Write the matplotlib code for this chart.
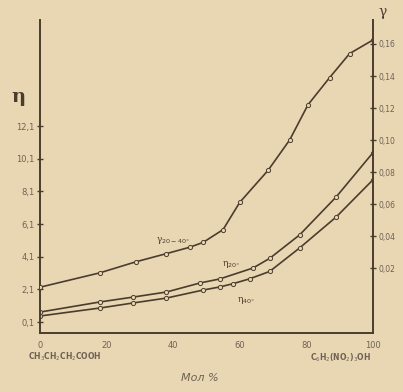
import matplotlib
matplotlib.use("Agg")
import matplotlib.pyplot as plt

# mol % of picric acid
x_gamma = [0, 18, 29, 38, 45, 49, 55, 60, 68.5, 75, 80.5, 87, 93, 100]
gamma_20_40 = [0.008, 0.017, 0.024, 0.029, 0.033, 0.036, 0.044, 0.061, 0.081,
               0.100, 0.122, 0.139, 0.154, 0.1625]

x_eta20 = [0, 18, 28, 38, 48, 54, 64, 69, 78, 89, 100]
eta_20 = [0.71, 1.33, 1.63, 1.94, 2.49, 2.74, 3.41, 4.0, 5.44, 7.77, 10.47]

x_eta40 = [0, 18, 28, 38, 49, 54, 58, 63, 69, 78, 89, 100]
eta_40 = [0.47, 0.96, 1.27, 1.57, 2.06, 2.25, 2.45, 2.75, 3.2, 4.64, 6.54, 8.81]

x_ticks = [0, 20, 40, 60, 80, 100]
eta_ticks = [0.1, 2.1, 4.1, 6.1, 8.1, 10.1, 12.1]
eta_labels = ["0,1", "2,1", "4,1", "6,1", "8,1", "10,1", "12,1"]
gamma_ticks = [0.02, 0.04, 0.06, 0.08, 0.10, 0.12, 0.14, 0.16]
gamma_labels = ["0,02", "0,04", "0,06", "0,08", "0,10", "0,12", "0,14", "0,16"]

paper = "#e9d6b3"
ink = "#4b3d2e"
txt = "#6e6254"

fig = plt.figure(figsize=(4.03, 3.92), dpi=100, facecolor=paper)
ax = fig.add_axes([0.099, 0.1505, 0.8263, 0.7985])
ax.set_facecolor(paper)
ax2 = ax.twinx()

ax.set_xlim(0, 100)
ax.set_ylim(-0.57, 18.6)
ax2.set_ylim(-0.0206, 0.175)

style = dict(color=ink, lw=1.2, marker="o", ms=3, mfc=paper, mec=ink, mew=0.7)
ax.plot(x_eta20, eta_20, **style)
ax.plot(x_eta40, eta_40, **style)
ax2.plot(x_gamma, gamma_20_40, **style)

for a in (ax, ax2):
    a.spines["top"].set_visible(False)
    for s in a.spines.values():
        s.set_color(ink)
        s.set_linewidth(1.4)
ax2.spines["left"].set_visible(False)
ax2.spines["bottom"].set_visible(False)
ax.spines["right"].set_visible(False)

ax.set_xticks(x_ticks)
ax.set_xticklabels([str(v) for v in x_ticks])
ax.set_yticks(eta_ticks)
ax.set_yticklabels(eta_labels)
ax2.set_yticks(gamma_ticks)
ax2.set_yticklabels(gamma_labels)
ax.tick_params(axis="both", colors=ink, labelcolor=txt, labelsize=6, direction="inout", length=4, width=1)
ax.tick_params(axis="x", pad=6, length=0)
ax.tick_params(axis="y", pad=2)
ax2.tick_params(axis="y", colors=ink, labelcolor=txt, labelsize=5.5, direction="inout", length=4, width=1, pad=2)

fig.text(18 / 403, 1 - 97 / 392, "η", fontsize=14, color=ink, fontweight="bold", ha="center", va="center", family="DejaVu Serif")
fig.text(383 / 403, 1 - 12 / 392, "γ", fontsize=10, color=ink, ha="center", va="center", family="DejaVu Serif")

fig.text(173 / 403, 1 - 240 / 392, "γ$_{20-40°}$", fontsize=6.5, color=ink, ha="center", va="center", family="DejaVu Serif")
fig.text(231 / 403, 1 - 264 / 392, "η$_{20°}$", fontsize=6.5, color=ink, ha="center", va="center", family="DejaVu Serif")
fig.text(246 / 403, 1 - 300 / 392, "η$_{40°}$", fontsize=6.5, color=ink, ha="center", va="center", family="DejaVu Serif")

fig.text(65 / 403, 1 - 357 / 392, "CH$_3$CH$_2$CH$_2$COOH", fontsize=5.5, color=txt, ha="center", va="center", fontweight="bold")
fig.text(340 / 403, 1 - 358 / 392, "C$_6$H$_2$(NO$_2$)$_3$OH", fontsize=5.5, color=txt, ha="center", va="center", fontweight="bold")
fig.text(200 / 403, 1 - 378 / 392, "Мол %", fontsize=8, color=txt, ha="center", va="center", style="italic")

fig.savefig("out.png", dpi=100, facecolor=paper)
